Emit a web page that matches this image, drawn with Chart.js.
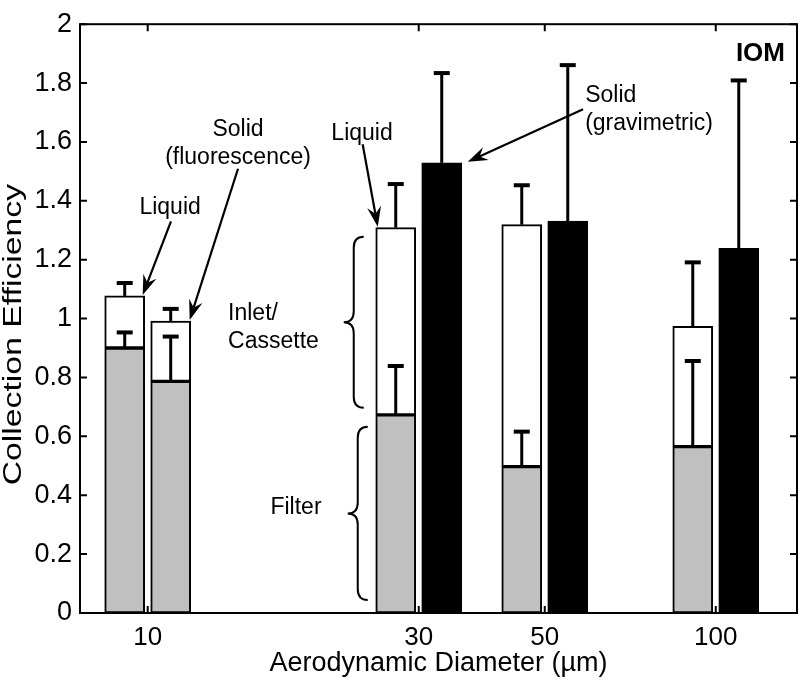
<!DOCTYPE html>
<html>
<head>
<meta charset="utf-8">
<script src="https://cdn.jsdelivr.net/npm/chart.js@4/dist/chart.umd.min.js"></script>
<style>
  html, body { margin: 0; padding: 0; background: #fff; }
</style>
</head>
<body>
<canvas id="iom_chart" width="800" height="682"></canvas>
<script>
// particle sizes (µm) and axis ticks
const diameters = [10, 30, 50, 100];
const xTicks = [10, 30, 50, 100];
const yTicks = [0, 0.2, 0.4, 0.6, 0.8, 1, 1.2, 1.4, 1.6, 1.8, 2];

// liquid particles: filter part + inlet/cassette part (stacked)
const liquidFilter = [0.900, 0.673, 0.497, 0.565];
const liquidInlet = [0.177, 0.636, 0.822, 0.409];
const liquidFilterErr = [0.053, 0.166, 0.119, 0.291];
const liquidTotalErr = [0.044, 0.148, 0.134, 0.217];

// solid particles, fluorescence (10 µm only)
const solidFilter = [0.787, null, null, null];
const solidInlet = [0.205, null, null, null];
const solidFilterErr = [0.152, null, null, null];
const solidTotalErr = [0.041, null, null, null];

// solid particles, gravimetric
const solidGrav = [null, 1.529, 1.331, 1.239];
const solidGravErr = [null, 0.305, 0.530, 0.570];

const GRAY = '#c0c0c0';
const FONT = "'Liberation Sans', Arial, sans-serif";
const Y_TITLE = 'Collection Efficiency';

const pts = arr => diameters.map((d, i) => ({ x: d, y: arr[i] }));

// error bars (upper side only, with a cap)
const errorBars = {
    id: 'errorBars',
    afterDatasetsDraw(chart) {
        const ctx = chart.ctx;
        const y = chart.scales.y;
        ctx.save();
        ctx.strokeStyle = '#000';
        chart.data.datasets.forEach((ds, i) => {
            const meta = chart.getDatasetMeta(i);
            meta.data.forEach((bar, j) => {
                const e = ds.err[j];
                if (e == null || ds.data[j].y == null) return;
                const p = bar.getProps(['x', 'y']);
                const top = y.getValueForPixel(p.y);
                const yEnd = y.getPixelForValue(top + e);
                ctx.lineWidth = 3;
                ctx.beginPath();
                ctx.moveTo(p.x, p.y);
                ctx.lineTo(p.x, yEnd);
                ctx.stroke();
                ctx.lineWidth = 4;
                ctx.beginPath();
                ctx.moveTo(p.x - 8, yEnd);
                ctx.lineTo(p.x + 8, yEnd);
                ctx.stroke();
            });
        });
        ctx.restore();
    }
};

// box frame with inward ticks on all four sides, plus the y title
const frame = {
    id: 'frame',
    afterDraw(chart) {
        const { ctx, chartArea: a, scales } = chart;
        ctx.save();
        ctx.strokeStyle = '#000';
        ctx.lineWidth = 2;
        ctx.strokeRect(a.left, a.top, a.right - a.left, a.bottom - a.top);
        ctx.beginPath();
        xTicks.forEach(v => {
            const px = scales.x.getPixelForValue(v);
            ctx.moveTo(px, a.bottom); ctx.lineTo(px, a.bottom - 7);
            ctx.moveTo(px, a.top); ctx.lineTo(px, a.top + 7);
        });
        yTicks.forEach(v => {
            const py = scales.y.getPixelForValue(v);
            ctx.moveTo(a.left, py); ctx.lineTo(a.left + 7, py);
            ctx.moveTo(a.right, py); ctx.lineTo(a.right - 7, py);
        });
        ctx.stroke();

        // y axis title, drawn a bit elongated like the original
        ctx.translate(14, (a.top + a.bottom) / 2 + 16);
        ctx.rotate(-Math.PI / 2);
        ctx.scale(1.35, 1);
        ctx.fillStyle = '#000';
        ctx.font = '25px ' + FONT;
        ctx.textAlign = 'center';
        ctx.textBaseline = 'middle';
        ctx.fillText(Y_TITLE, 0, 0);
        ctx.restore();
    }
};

// text notes, arrows and braces
const notes = [
    { lines: ['Liquid'], x: 10.95, y: 1.376, align: 'center' },
    { lines: ['Solid', '(fluorescence)'], x: 14.42, y: 1.642, align: 'center' },
    { lines: ['Liquid'], x: 23.84, y: 1.629, align: 'center' },
    { lines: ['Solid', '(gravimetric)'], x: 58.9, y: 1.758, align: 'left' },
    { lines: ['Inlet/', 'Cassette'], x: 13.85, y: 1.018, align: 'left' },
    { lines: ['Filter'], x: 18.24, y: 0.358, align: 'center' }
];
// arrow: start in data units, end at a top corner of a bar (dataset, index, side)
const arrows = [
    { x: 10.99, y: 1.330, ds: 1, idx: 0, side: 1, dx: -2 },
    { x: 14.42, y: 1.509, ds: 3, idx: 0, side: 1, dx: -1 },
    { x: 23.9, y: 1.592, ds: 1, idx: 1, side: -1, dx: 2 },
    { x: 58.4, y: 1.711, ds: 4, idx: 1, side: 1, dx: 6 }
];

function drawArrow(ctx, x0, y0, x1, y1) {
    const ang = Math.atan2(y1 - y0, x1 - x0);
    const len = 20, half = 7;
    const c = Math.cos(ang), s = Math.sin(ang);
    const bx = x1 - len * c, by = y1 - len * s;
    ctx.beginPath();
    ctx.moveTo(x0, y0);
    ctx.lineTo(x1 - 8 * c, y1 - 8 * s);
    ctx.stroke();
    ctx.beginPath();
    ctx.moveTo(x1, y1);
    ctx.lineTo(bx + half * s, by - half * c);
    ctx.lineTo(bx + len * 0.35 * c, by + len * 0.35 * s);
    ctx.lineTo(bx - half * s, by + half * c);
    ctx.closePath();
    ctx.fill();
}

function drawBrace(ctx, xe, xt, y1, y2) {
    const xm = (xe + xt) / 2;
    const ym = (y1 + y2) / 2;
    const r = 11;
    ctx.beginPath();
    ctx.moveTo(xe, y1);
    ctx.quadraticCurveTo(xm, y1, xm, y1 + r);
    ctx.lineTo(xm, ym - r);
    ctx.quadraticCurveTo(xm, ym, xt, ym);
    ctx.quadraticCurveTo(xm, ym, xm, ym + r);
    ctx.lineTo(xm, y2 - r);
    ctx.quadraticCurveTo(xm, y2, xe, y2);
    ctx.stroke();
}

const annotations = {
    id: 'annotations',
    afterDraw(chart) {
        const { ctx, chartArea: a, scales } = chart;
        ctx.save();
        ctx.fillStyle = '#000';
        ctx.strokeStyle = '#000';
        ctx.font = '23px ' + FONT;
        ctx.textBaseline = 'middle';
        notes.forEach(n => {
            ctx.textAlign = n.align;
            const px = scales.x.getPixelForValue(n.x);
            const py = scales.y.getPixelForValue(n.y);
            n.lines.forEach((t, k) => ctx.fillText(t, px, py + k * 28));
        });

        ctx.lineWidth = 2.2;
        arrows.forEach(ar => {
            const bar = chart.getDatasetMeta(ar.ds).data[ar.idx].getProps(['x', 'y', 'width']);
            const x1 = bar.x + ar.side * bar.width / 2 + ar.dx;
            const y1 = bar.y - 1;
            drawArrow(ctx, scales.x.getPixelForValue(ar.x), scales.y.getPixelForValue(ar.y), x1, y1);
        });

        // braces beside the 30 µm liquid bar
        const fBar = chart.getDatasetMeta(0).data[1].getProps(['x', 'y', 'width', 'base']);
        const iBar = chart.getDatasetMeta(1).data[1].getProps(['x', 'y', 'width']);
        const left = fBar.x - fBar.width / 2;
        ctx.lineWidth = 2;
        drawBrace(ctx, left - 12, left - 32, iBar.y + 9, fBar.y - 7);
        drawBrace(ctx, left - 8, left - 28, fBar.y + 12, fBar.base - 13);

        ctx.font = 'bold 26px ' + FONT;
        ctx.textAlign = 'right';
        ctx.fillText('IOM', a.right - 12, a.top + 30);
        ctx.restore();
    }
};

const barStyle = {
    borderColor: '#000',
    borderWidth: 2,
    borderSkipped: false,
    barThickness: 46,
    maxBarThickness: 40
};

const ctx1 = document.getElementById('iom_chart');

const myChart1 = new Chart(ctx1, {
    type: 'bar',
    data: {
        datasets: [
            { label: 'Liquid - filter', data: pts(liquidFilter), stack: 'liquid', backgroundColor: GRAY, err: liquidFilterErr, ...barStyle },
            { label: 'Liquid - inlet/cassette', data: pts(liquidInlet), stack: 'liquid', backgroundColor: '#fff', err: liquidTotalErr, ...barStyle },
            { label: 'Solid (fluorescence) - filter', data: pts(solidFilter), stack: 'solid', backgroundColor: GRAY, err: solidFilterErr, ...barStyle },
            { label: 'Solid (fluorescence) - inlet/cassette', data: pts(solidInlet), stack: 'solid', backgroundColor: '#fff', err: solidTotalErr, ...barStyle },
            { label: 'Solid (gravimetric)', data: pts(solidGrav), stack: 'solid', backgroundColor: '#000', err: solidGravErr, ...barStyle }
        ]
    },
    options: {
        responsive: false,
        animation: false,
        devicePixelRatio: 1,
        layout: { padding: { top: 10, right: 3, left: 0, bottom: 0 } },
        plugins: {
            legend: { display: false },
            tooltip: { enabled: false }
        },
        scales: {
            x: {
                type: 'logarithmic',
                min: 7.6,
                max: 139,
                offset: false,
                afterBuildTicks: s => { s.ticks = xTicks.map(v => ({ value: v })); },
                afterFit: s => { s.height = 69; },
                grid: { display: false, drawTicks: false, offset: false },
                border: { display: false },
                ticks: {
                    autoSkip: false,
                    maxRotation: 0,
                    padding: 9,
                    color: '#000',
                    font: { family: FONT, size: 26 },
                    callback: v => String(v)
                },
                title: {
                    display: true,
                    text: 'Aerodynamic Diameter (µm)',
                    color: '#000',
                    font: { family: FONT, size: 27 },
                    padding: { top: 0, bottom: 2 }
                }
            },
            y: {
                stacked: true,
                min: 0,
                max: 2,
                afterBuildTicks: s => { s.ticks = yTicks.map(v => ({ value: v })); },
                afterFit: s => { s.width = 80; },
                grid: { display: false, drawTicks: false },
                border: { display: false },
                ticks: {
                    padding: 8,
                    color: '#000',
                    font: { family: FONT, size: 27 },
                    callback: v => String(Number(v.toFixed(1)))
                },
                title: { display: false }
            }
        }
    },
    plugins: [errorBars, frame, annotations]
});
</script>
</body>
</html>
